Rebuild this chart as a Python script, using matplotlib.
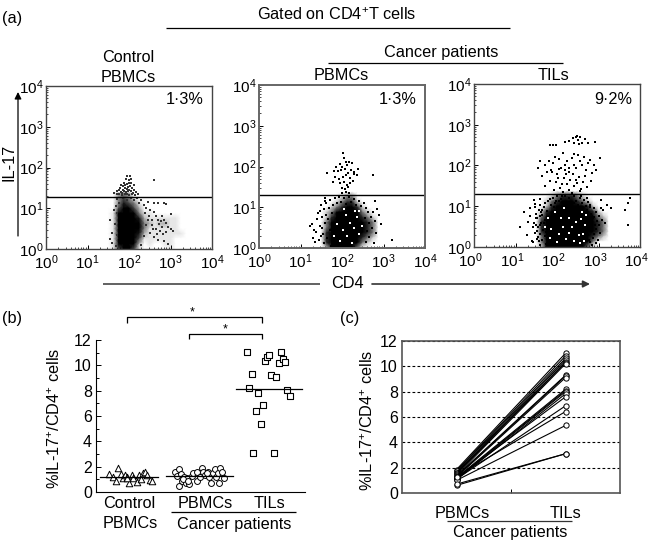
import numpy as np
import matplotlib
matplotlib.use('Agg')
import matplotlib.pyplot as plt
from matplotlib.ticker import LogLocator, MultipleLocator, NullFormatter
from matplotlib.transforms import ScaledTranslation

plt.rcParams['font.family'] = ['Liberation Sans', 'DejaVu Sans']
plt.rcParams['mathtext.fontset'] = 'custom'
plt.rcParams['mathtext.rm'] = 'Liberation Sans'
plt.rcParams['mathtext.it'] = 'Liberation Sans'
plt.rcParams['mathtext.default'] = 'regular'

W, H = 649, 542

# flow plots: darkness (0-9), top row first, log10 units
grid_x = [1.0 + 0.125 * i for i in range(21)]
grid_y = [1.375, 1.25, 1.125, 1.0, 0.875, 0.75, 0.625, 0.5, 0.375, 0.25, 0.125, 0.0]

density_control = ["000000232000000000000", "000000343100000000000", "000000354310000000000",
                   "000000466420000000000", "000001688631100000000", "000001799952111111000",
                   "000001899963212211000", "000001899963111111000", "000001899952111111100",
                   "000001799841111110000", "000001688620100110000", "000001477410000010000"]
density_pbmc = ["000000000000000000000", "000000123442100000000", "000001234553210000000",
                "000012345665321000000", "000013467776432000000", "000113589997543100000",
                "001124699997654100000", "001124799997654100000", "001125899997654100000",
                "001125899997543100000", "001125899996431000000", "001113788874210000000"]
density_til = ["000000000000000000000", "000000134555431000000", "000001345666543210000",
               "000012356889865321000", "000123579999987532000", "000124699999998643100",
               "001125899999999654100", "001125899999999654100", "001125899999999654100",
               "001124799999998543100", "001124799999987421000", "000113688999864210000"]

# single events (log10 CD4, log10 IL-17)
dots_control = [(1.75, 1.35), (1.8, 1.4), (1.85, 1.45), (1.9, 1.5), (1.95, 1.6), (2.0, 1.7), (2.03, 1.8), (2.05, 1.62),
                (1.92, 1.72), (1.86, 1.55), (1.98, 1.42), (2.08, 1.5), (2.1, 1.38), (2.15, 1.33), (1.7, 1.42),
                (1.65, 1.38), (2.02, 1.55), (1.96, 1.36), (2.22, 1.35), (2.6, 1.7), (1.82, 1.33), (1.9, 1.35),
                (2.0, 1.33), (2.05, 1.42), (1.78, 1.5), (1.88, 1.62), (1.94, 1.48), (2.12, 1.44), (1.72, 1.34),
                (1.84, 1.37), (1.88, 1.42), (1.93, 1.39), (2.01, 1.46), (2.07, 1.35), (1.8, 1.56), (1.97, 1.52),
                (1.91, 1.58), (1.99, 1.63), (2.06, 1.72), (1.95, 1.78), (2.11, 1.56), (2.18, 1.41), (1.76, 1.44),
                (2.45, 1.15), (2.6, 1.12), (2.7, 1.12), (2.85, 1.12), (2.9, 1.1), (2.5, 0.95), (2.6, 0.9), (2.65, 0.8),
                (2.7, 0.72), (2.8, 0.8), (2.85, 0.7), (2.9, 0.65), (2.95, 0.55), (3.0, 0.5), (3.05, 0.45), (2.55, 0.6),
                (2.65, 0.5), (2.75, 0.45), (2.8, 0.55), (2.9, 0.42), (2.45, 0.7), (2.5, 0.4), (2.6, 0.3), (2.7, 0.22),
                (2.85, 0.2), (2.95, 0.12), (1.55, 0.7), (1.58, 0.4), (1.6, 0.15), (1.65, 0.95), (1.55, 0.25),
                (3.0, 0.85), (2.4, 1.0), (2.55, 0.72), (1.7, 1.22), (1.75, 1.12), (1.68, 1.05), (1.72, 0.88),
                (1.66, 0.62), (1.7, 0.34), (1.68, 0.08), (2.3, 1.2), (2.35, 1.08), (2.38, 0.88), (2.42, 0.58),
                (2.35, 0.32), (2.3, 0.1), (2.2, 1.24), (2.25, 1.14), (1.85, 1.25), (1.95, 1.2), (2.05, 1.26),
                (2.12, 1.2), (2.72, 0.62), (2.78, 0.68), (2.68, 0.38), (2.48, 0.82), (2.58, 0.48), (2.82, 0.36)]

dots_pbmc = [(2.02, 2.32), (2.05, 2.2), (2.1, 2.1), (1.95, 2.05), (2.0, 2.0), (2.12, 2.03), (2.18, 2.12), (2.25, 2.08),
             (1.85, 1.98), (1.9, 1.88), (1.98, 1.92), (2.08, 1.95), (2.15, 1.85), (2.22, 1.92), (2.3, 1.87),
             (2.38, 1.95), (1.82, 1.75), (1.8, 1.9), (1.92, 1.7), (2.02, 1.75), (2.1, 1.78), (2.2, 1.72), (2.28, 1.82),
             (2.35, 1.78), (1.78, 1.62), (1.95, 1.6), (2.05, 1.62), (2.12, 1.55), (2.2, 1.6), (2.27, 1.65), (2.0, 1.48),
             (2.08, 1.45), (2.15, 1.5), (2.0, 1.36), (2.1, 1.38), (2.18, 1.34), (1.65, 1.85), (2.75, 1.8),
             (1.22, 0.55), (1.28, 0.6), (1.3, 0.25), (1.38, 0.4), (1.42, 0.85), (1.46, 0.55), (1.5, 1.05), (1.52, 0.75),
             (1.56, 0.95), (1.6, 1.15), (1.35, 0.15), (1.45, 0.2), (1.55, 0.35), (1.62, 1.1), (1.4, 0.7), (1.5, 0.3),
             (1.58, 1.22), (1.32, 0.45), (1.48, 0.92), (1.52, 0.5), (1.56, 0.12), (1.6, 0.62), (1.62, 0.82), (1.65, 0.24),
             (1.68, 0.98), (1.7, 0.44), (1.72, 1.18), (1.66, 0.7), (1.74, 0.05), (1.76, 0.85), (1.78, 1.05),
             (1.82, 1.22), (1.88, 1.1), (1.92, 1.26), (1.98, 1.14), (2.04, 1.22), (2.1, 1.08), (2.16, 1.25), (2.22, 1.12),
             (2.28, 1.2), (2.34, 1.06), (2.4, 1.16), (2.46, 1.02), (2.52, 1.1), (2.58, 0.98), (2.62, 0.88), (2.56, 0.74),
             (2.64, 0.62), (2.6, 0.42), (2.66, 0.26), (2.58, 0.14), (2.7, 0.76), (2.72, 0.5), (2.74, 0.88), (2.8, 0.66),
             (2.82, 0.36), (2.76, 0.12), (2.8, 1.15), (2.85, 0.95), (2.9, 0.8), (2.95, 0.6), (3.2, 0.2)]

dots_til = [(1.83, 2.5), (1.9, 2.51), (1.98, 2.5), (2.2, 2.58), (2.3, 2.6), (2.38, 2.68), (2.42, 2.55), (2.48, 2.72),
            (2.5, 2.62), (2.55, 2.7), (2.6, 2.56), (2.68, 2.66), (2.75, 2.55), (2.92, 2.58), (2.45, 2.7), (2.52, 2.53),
            (1.55, 1.95), (1.6, 2.1), (1.65, 1.75), (1.7, 2.0), (1.75, 1.85), (1.8, 2.12), (1.85, 1.9), (1.9, 2.05),
            (1.95, 2.2), (2.0, 1.8), (2.05, 2.15), (2.1, 1.95), (2.15, 2.3), (2.2, 2.0), (2.25, 2.1), (2.3, 1.85),
            (2.35, 2.18), (2.4, 2.28), (2.45, 1.95), (2.5, 2.25), (2.55, 2.1), (2.6, 2.0), (2.65, 2.22), (2.7, 1.88),
            (2.75, 2.05), (2.8, 2.14), (2.85, 1.82), (2.9, 2.02), (2.95, 1.9), (3.03, 2.18), (1.72, 1.5), (1.82, 1.62),
            (1.92, 1.4), (2.02, 1.7), (2.12, 1.55), (2.22, 1.78), (2.32, 1.65), (2.42, 1.5), (2.52, 1.72), (2.62, 1.6),
            (2.72, 1.48), (2.82, 1.62), (1.88, 1.85), (1.98, 1.6), (2.08, 1.45), (2.18, 1.7), (2.28, 1.4), (2.38, 1.8),
            (2.48, 1.58), (2.58, 1.42), (2.68, 1.75), (2.05, 1.92), (2.15, 1.35), (2.25, 1.55), (2.35, 1.33),
            (2.45, 1.65), (2.55, 1.38), (2.2, 1.9), (2.3, 1.95), (2.4, 2.02),
            (1.12, 0.5), (1.2, 0.85), (1.28, 0.3), (1.3, 0.62), (1.36, 0.95), (1.4, 0.15), (1.42, 0.5), (1.48, 1.05),
            (1.5, 0.7), (1.55, 0.25), (1.58, 1.18), (1.62, 0.85), (1.35, 0.75), (1.45, 1.15), (1.52, 0.4), (1.6, 0.55),
            (3.05, 1.15), (3.12, 0.9), (3.15, 0.6), (3.2, 1.02), (3.3, 0.95), (3.65, 0.9), (3.72, 1.08), (3.75, 1.2),
            (3.7, 0.55),
            (1.42, 0.12), (1.47, 0.35), (1.44, 0.6), (1.5, 0.82), (1.46, 0.98), (1.52, 0.2), (1.55, 0.48), (1.53, 0.7),
            (1.58, 0.05), (1.6, 0.32), (1.57, 0.92), (1.62, 0.58), (1.6, 1.02), (1.65, 0.16), (1.66, 0.42), (1.64, 0.78),
            (1.68, 0.98), (1.7, 0.27), (1.72, 0.66), (1.7, 1.08), (1.74, 0.08), (1.75, 0.5), (1.76, 0.88), (1.78, 1.14),
            (1.5, 0.55), (1.56, 0.14), (1.63, 0.9), (1.68, 0.6), (1.73, 0.36), (1.58, 0.75),
            (1.85, 1.02), (1.9, 1.2), (1.95, 1.08), (2.0, 1.25), (2.05, 1.12), (2.1, 1.18), (2.15, 1.04), (2.2, 1.26),
            (2.25, 1.1), (2.3, 1.2), (2.35, 1.06), (2.4, 1.24), (2.45, 1.14), (2.5, 1.02), (2.55, 1.2), (2.6, 1.08),
            (2.65, 1.16), (2.7, 1.0), (2.75, 1.1), (1.82, 1.18), (1.98, 1.14), (2.12, 1.26), (2.28, 1.02), (2.42, 1.08),
            (2.58, 1.26), (2.72, 1.2), (2.8, 1.02), (1.92, 0.98),
            (2.72, 0.9), (2.75, 0.7), (2.78, 0.5), (2.74, 0.3), (2.8, 0.12), (2.82, 0.82), (2.85, 0.62), (2.83, 0.42),
            (2.87, 0.22), (2.88, 0.95), (2.9, 0.74), (2.92, 0.54), (2.9, 0.32), (2.95, 0.86), (2.97, 0.65), (2.95, 0.45),
            (2.98, 0.18), (3.0, 0.76), (3.02, 0.55), (3.03, 0.35), (3.05, 0.95), (2.77, 0.18), (2.84, 0.06), (2.93, 0.1),
            (3.08, 0.66), (2.86, 0.72), (2.79, 0.98), (2.76, 0.4)]

# pale specks inside the dense core
white_pbmc = [(2.02, 0.45), (2.12, 0.3), (2.2, 0.62), (1.95, 0.18), (2.28, 0.48), (2.1, 0.82), (2.36, 0.75),
              (2.42, 0.35), (1.88, 0.6), (2.25, 0.12), (2.05, 0.95), (2.32, 0.92), (2.48, 0.55), (2.4, 0.9), (1.8, 0.3)]
white_til = [(1.95, 0.85), (2.05, 0.32), (2.15, 0.48), (2.22, 0.2), (2.35, 0.48), (2.45, 0.62), (2.52, 0.3), (2.3, 0.72),
             (1.85, 0.45), (2.1, 0.7), (2.6, 0.85), (2.4, 0.15), (2.18, 0.95), (2.28, 0.35), (2.55, 0.1), (1.78, 0.7),
             (2.68, 0.55), (2.0, 0.12), (2.62, 0.32), (2.58, 0.68), (1.82, 0.22), (1.72, 0.48), (2.66, 0.14), (2.7, 0.78)]

gate_control = 1.28
gate_pbmc = 1.29
gate_til = 1.30

# panel b, x is distance along the axis
control_x = [22.3, 13, 16.7, 20, 24.7, 26.7, 29, 31.3, 33.3, 35.7, 37.3, 40.7, 43, 45, 47.3, 49.3, 51.3, 54, 56.3, 30.7]
control_y = [1.87, 1.42, 1.21, 0.87, 1.42, 1.13, 1.37, 1.21, 0.74, 1.34, 1.08, 0.82, 1.34, 1.03, 1.53, 1.6, 1.32, 0.95, 0.9, 1.08]
blood_x = [79, 83.3, 80.7, 84.7, 88, 90.7, 83, 85.7, 90, 93, 95.7, 97.3, 100.7, 101.3, 104, 106.3, 107.3, 109, 112.3,
           113, 115, 116.7, 119, 119.7, 122.3, 124, 123, 126.3, 128.3, 110.7, 87.3, 92.3]
blood_y = [1.6, 1.79, 1.26, 1.39, 1.21, 1.08, 0.47, 0.87, 0.74, 0.6, 1.26, 1.52, 0.87, 1.58, 1.21, 1.92, 1.6, 1.34,
           1.6, 1.21, 0.74, 1.47, 1.79, 1.21, 1.52, 1.92, 0.69, 1.6, 1.08, 1.47, 1.03, 0.9]
til_x = [150.7, 156, 153, 162, 160, 166.7, 164.7, 157.3, 178, 169, 170.7, 173.3, 184.7, 182.7, 187, 189, 175.3, 180, 191.3, 193.7]
til_y = [11.03, 9.3, 8.19, 7.83, 6.43, 6.88, 5.33, 3.1, 3.1, 10.35, 10.63, 10.82, 11.03, 10.2, 10.5, 10.3, 9.24, 9.11, 8.09, 7.59]
median_x = [[4, 62], [69.7, 136.7], [139.7, 206.3]]
median_y = [1.16, 1.26, 8.1]

# panel c, paired values
paired_pbmc = [1.85, 1.75, 1.7, 1.6, 1.55, 1.5, 1.4, 1.35, 1.3, 1.25, 1.2, 1.15, 1.1, 1.05, 1.2, 1.1, 1.0, 0.6, 0.7, 1.3]
paired_til = [11.03, 10.82, 10.63, 10.5, 10.35, 10.3, 10.2, 9.3, 9.24, 9.11, 8.19, 8.09, 8.0, 7.83, 7.59, 6.88, 5.33, 3.1, 3.1, 6.43]
paired_labels = ['PBMCs', 'TILs']

y_ticks = [0, 2, 4, 6, 8, 10, 12]
pct_label = '%IL-17$^{+}$/CD4$^{+}$ cells'


def make_axes(left, top, right, bottom):
    return fig.add_axes([left / W, 1 - bottom / H, (right - left) / W, (bottom - top) / H])


def flow_panel(box, density, dots, gate, white=None, spine='#444444', lw=1.0, low=2.4, dot_size=0.7, dot_color='black'):
    ax = make_axes(*box)
    z = np.array([[int(c) for c in row] for row in density], dtype=float)
    ax.set_xscale('log')
    ax.set_yscale('log')
    ax.pcolormesh(10 ** np.array(grid_x), 10 ** np.array(grid_y), z, shading='gouraud',
                  cmap='gray_r', vmin=low, vmax=5.5, rasterized=True)
    d = np.array(dots)
    ax.scatter(10 ** d[:, 0], 10 ** d[:, 1], s=dot_size, c=dot_color, marker='s', linewidths=0)
    if white is not None:
        w = np.array(white)
        ax.scatter(10 ** w[:, 0], 10 ** w[:, 1], s=1.3, c='white', marker='s', linewidths=0)
    ax.axhline(10 ** gate, color='black', lw=1.0)
    ax.set_xlim(1, 1e4)
    ax.set_ylim(1, 1e4)
    for s in ax.spines.values():
        s.set_color(spine)
        s.set_linewidth(lw)
    for axis in (ax.xaxis, ax.yaxis):
        axis.set_major_locator(LogLocator(base=10, numticks=6))
        axis.set_minor_locator(LogLocator(base=10, subs=np.arange(2, 10), numticks=6))
        axis.set_minor_formatter(NullFormatter())
    ax.tick_params(which='major', direction='in', length=3, width=0.7, labelsize=11, pad=1.5)
    ax.tick_params(axis='x', which='major', pad=3)
    ax.tick_params(which='minor', direction='in', length=1.5, width=0.5)
    return ax


def txt(x, y, s, **kw):
    kw.setdefault('fontsize', 11.7)
    kw.setdefault('ha', 'center')
    kw.setdefault('va', 'center')
    over.text(x, y, s, **kw)


def seg(x, y, color='black', lw=0.9):
    over.plot(x, y, color=color, lw=lw, solid_capstyle='butt')


fig = plt.figure(figsize=(W / 100, H / 100), dpi=100)

flow_panel((46, 86, 212, 249), density_control, dots_control, gate_control, low=0.5, dot_size=0.6, dot_color='#333333')
flow_panel((259, 85, 425, 248), density_pbmc, dots_pbmc, gate_pbmc, white_pbmc, spine='#666666', lw=1.4)
ax_til = flow_panel((474, 84, 640, 247), density_til, dots_til, gate_til, white_til)
# last label has to stay inside the picture
for lab in ax_til.get_xticklabels():
    lab.set_transform(lab.get_transform() + ScaledTranslation(-2.5 / 72, 0, fig.dpi_scale_trans))

# panel b
ax_b = make_axes(96, 340, 305, 492)
ax_b.scatter(control_x, control_y, marker='^', s=22, facecolors='white', edgecolors='black', linewidths=0.7, zorder=3)
ax_b.scatter(blood_x, blood_y, marker='o', s=18, facecolors='white', edgecolors='black', linewidths=0.7, zorder=3)
ax_b.scatter(til_x, til_y, marker='s', s=14, facecolors='white', edgecolors='black', linewidths=0.8, zorder=3)
for mx, my in zip(median_x, median_y):
    ax_b.plot(mx, [my, my], color='black', lw=0.9, zorder=4)
ax_b.set_xlim(0, 209)
ax_b.set_ylim(0, 12)
ax_b.spines['top'].set_visible(False)
ax_b.spines['right'].set_visible(False)
ax_b.set_xticks([])
ax_b.set_yticks(y_ticks)
ax_b.yaxis.set_minor_locator(MultipleLocator(1))
ax_b.tick_params(axis='y', which='major', direction='in', length=3.5, width=0.7, labelsize=11.5, pad=3)
ax_b.tick_params(axis='y', which='minor', direction='in', length=2, width=0.7)

# panel c
ax_c = make_axes(402, 341, 620, 493)
for a, b in zip(paired_pbmc, paired_til):
    ax_c.plot([0, 1], [a, b], color='black', lw=0.8, marker='o', ms=3.8, mfc='white', mec='black', mew=0.7)
ax_c.set_xlim(-0.5, 1.5)
ax_c.set_ylim(0, 12)
ax_c.set_yticks(y_ticks)
ax_c.set_xticks([0.5])
ax_c.set_xticklabels([])
ax_c.tick_params(axis='x', direction='in', length=3, width=0.7)
ax_c.tick_params(axis='y', length=0, labelsize=11.5, pad=3)
ax_c.grid(axis='y', color='black', linestyle=(0, (2.5, 2)), lw=0.8)
ax_c.set_axisbelow(True)
for s in ax_c.spines.values():
    s.set_color('#555555')
    s.set_linewidth(1.2)

# labels and brackets in picture coordinates
over = fig.add_axes([0, 0, 1, 1])
over.set_xlim(0, W)
over.set_ylim(H, 0)
over.axis('off')

txt(2, 19, '(a)', ha='left')
txt(337, 15, 'Gated on CD4$^{+}$T cells')
seg([166, 510], [28, 28])
txt(441, 53, 'Cancer patients')
seg([328, 563], [63, 63])
txt(128, 57, 'Control')
txt(128, 77, 'PBMCs')
txt(341, 75, 'PBMCs')
txt(554, 75, 'TILs')
txt(185, 100, '1·3%')
txt(398, 99, '1·3%')
txt(613, 99, '9·2%')
txt(9, 162, 'IL-17', rotation=90)
over.annotate('', xy=(18, 92), xytext=(18, 236),
              arrowprops=dict(arrowstyle='-|>', color='black', lw=0.9, shrinkA=0, shrinkB=0, mutation_scale=10))
seg([103, 320], [284, 284], color='#555555', lw=1.3)
txt(347, 284, 'CD4')
over.annotate('', xy=(590, 284), xytext=(372, 284),
              arrowprops=dict(arrowstyle='-|>', color='#333333', lw=1.2, shrinkA=0, shrinkB=0, mutation_scale=10))

txt(2, 318, '(b)', ha='left')
seg([127, 127, 262, 262], [323, 317, 317, 323])
seg([189, 189, 262, 262], [339, 334, 334, 339])
txt(192, 312, '*', fontsize=9)
txt(225, 329, '*', fontsize=9)
txt(55, 418, pct_label, rotation=90)
txt(129, 504, 'Control')
txt(130, 524, 'PBMCs')
txt(205, 504, 'PBMCs')
txt(270, 504, 'TILs')
seg([171, 296], [512, 512])
txt(234, 524, 'Cancer patients')

txt(340, 318, '(c)', ha='left')
txt(368, 420, pct_label, rotation=90)
txt(462, 513, paired_labels[0])
txt(565, 513, paired_labels[1])
seg([447, 572], [521, 521], color='#333333')
txt(510, 532, 'Cancer patients')

fig.savefig('out.png', dpi=100)
